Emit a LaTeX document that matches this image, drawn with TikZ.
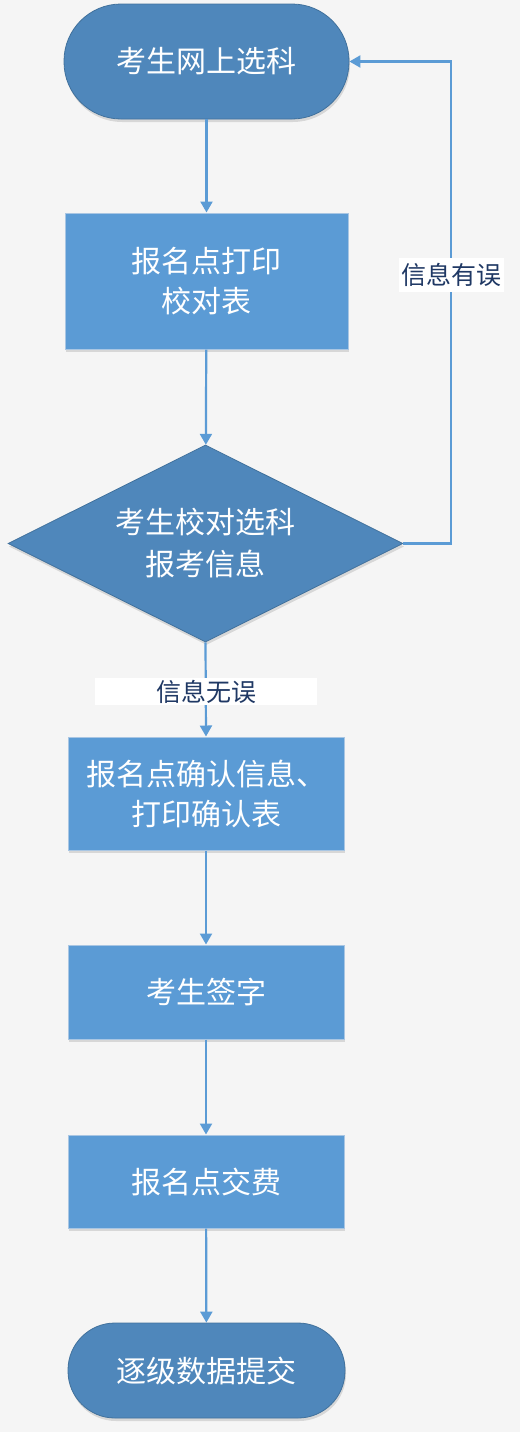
\documentclass[tikz,border=0pt]{standalone}
\usepackage{fontspec}
\setmainfont{Noto Sans CJK SC}
\usetikzlibrary{shapes.geometric,arrows.meta,shadows}
\definecolor{bg}{HTML}{F5F5F5}
\definecolor{darkfill}{HTML}{4F87BB}
\definecolor{darkedge}{HTML}{41719C}
\definecolor{boxfill}{HTML}{5B9BD5}
\definecolor{boxedge}{HTML}{A9C6E3}
\definecolor{linec}{HTML}{5B9BD5}
\definecolor{labelc}{HTML}{1F3864}
\tikzset{
  softshadow/.style={drop shadow={shadow xshift=1pt,shadow yshift=-3pt,opacity=0.12,fill=black}},
  term/.style={rectangle,rounded corners=47pt,fill=darkfill,draw=darkedge,line width=0.8pt,
    text=white,font=\fontsize{30pt}{40pt}\selectfont,align=center,softshadow,inner sep=0pt},
  procbox/.style={rectangle,fill=boxfill,draw=boxedge,line width=1pt,text=white,
    font=\fontsize{30pt}{40pt}\selectfont,align=center,softshadow,inner sep=0pt},
  decide/.style={diamond,fill=darkfill,draw=darkedge,line width=0.8pt,inner sep=0pt,softshadow},
  dtext/.style={text=white,font=\fontsize{30pt}{42pt}\selectfont,align=center,inner sep=0pt},
  conn/.style={draw=linec,line width=2.2pt,-{Triangle[length=11pt,width=12pt]}},
  lbl/.style={fill=white,text=labelc,font=\fontsize{25pt}{30pt}\selectfont,inner sep=0pt}
}
\begin{document}
\begin{tikzpicture}[x=1pt,y=-1pt]
\fill[bg] (0,0) rectangle (520,1432);
\useasboundingbox (0,0) rectangle (520,1432);
\node[term,minimum width=285pt,minimum height=115pt,rounded corners=57pt] (start) at (206.5,61.5) {考生网上选科};
\node[procbox,minimum width=283pt,minimum height=136pt] (b1) at (206.5,281) {报名点打印\\校对表};
\node[decide,minimum width=395pt,minimum height=197pt] (dia) at (205.5,543.5) {};
\node[dtext] (diat) at (205.5,543.5) {考生校对选科\\报考信息};
\node[procbox,minimum width=276pt,minimum height=113pt] (b3) at (206,793.5) {报名点确认信息、\\打印确认表};
\node[procbox,minimum width=276pt,minimum height=94pt] (b4) at (206,992) {考生签字};
\node[procbox,minimum width=276pt,minimum height=93pt] (b5) at (206,1181.5) {报名点交费};
\node[term,minimum width=277pt,minimum height=95pt] (end) at (206.5,1370.5) {逐级数据提交};
\coordinate (fb) at (451,543.5);
\draw[conn] (start) -- (b1);
\draw[conn] (b1) -- (dia);
\draw[conn] (dia.south) -- (b3.north);
\draw[conn] (b3) -- (b4);
\draw[conn] (b4) -- (b5);
\draw[conn] (b5) -- (end);
\draw[conn] (dia.east) -- (fb) |- (start.east);
\node[lbl,minimum width=105pt,minimum height=34pt] (err) at (451,275) {信息有误};
\node[lbl,minimum width=222pt,minimum height=27pt] (ok) at (206,691.5) {信息无误};
\end{tikzpicture}
\end{document}
